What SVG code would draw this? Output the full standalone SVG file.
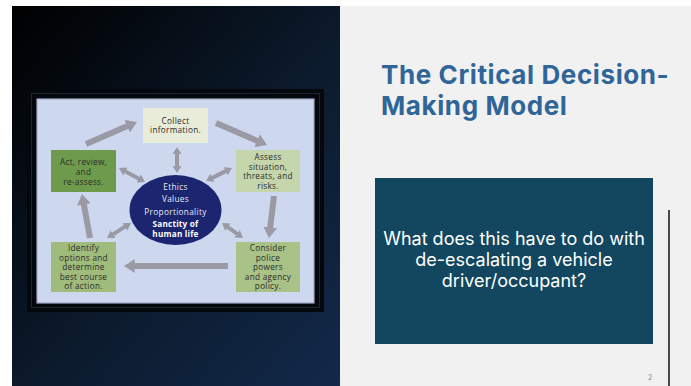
<svg xmlns="http://www.w3.org/2000/svg" width="691" height="386" viewBox="0 0 691 386">
<defs>
<linearGradient id="bg" x1="0" y1="0" x2="1" y2="1">
<stop offset="0" stop-color="#000000"/>
<stop offset="0.55" stop-color="#0c1b2d"/>
<stop offset="1" stop-color="#12294a"/>
</linearGradient>
<marker id="ah" viewBox="0 0 10 10" refX="1" refY="5" markerWidth="1.8" markerHeight="2.3" preserveAspectRatio="none" orient="auto-start-reverse">
<path d="M0,0 L10,5 L0,10 z" fill="#9b99a3"/>
</marker>
<style>
.box{stroke:none}
.t{font-family:"Open Sans","Liberation Sans",sans-serif;font-size:8.2px;letter-spacing:0.3px;fill:#2b2b2b;text-anchor:middle}
.e{font-family:"Open Sans","Liberation Sans",sans-serif;font-size:8.2px;letter-spacing:0.35px;fill:#e8ecf6;text-anchor:middle}
.eb{font-weight:700;fill:#ffffff;letter-spacing:0.2px}
.arr{stroke:#9b99a3;stroke-width:6;fill:none;marker-end:url(#ah)}
.dbl{stroke:#9b99a3;stroke-width:4;fill:none;marker-start:url(#ah);marker-end:url(#ah)}
.title{font-family:Inter,"Open Sans",sans-serif;font-weight:700;font-size:26px;letter-spacing:0.6px;fill:#2f6599}
.q{font-family:Inter,"Open Sans",sans-serif;font-size:18px;fill:#ffffff;text-anchor:middle}
</style>
</defs>
<rect x="0" y="0" width="691" height="386" fill="#ffffff"/>
<rect x="340" y="6" width="351" height="380" fill="#f1f1f1"/>
<rect x="12" y="6" width="328" height="380" fill="url(#bg)"/>

<g id="frame">
<rect x="27" y="89" width="297" height="223" fill="#04070c"/>
<rect x="31.5" y="93.5" width="288" height="214" fill="none" stroke="#1f2633" stroke-width="1"/>
<rect x="37" y="99" width="277" height="204" fill="#cdd8ef" stroke="#a3a8c8" stroke-width="1.2"/>
</g>

<g id="connectors">
<line class="arr" x1="86" y1="144" x2="128.1" y2="125.8"/>
<line class="arr" x1="216" y1="123" x2="258.1" y2="141.2"/>
<line class="arr" x1="274" y1="196" x2="270.1" y2="228.4"/>
<line class="arr" x1="228" y1="266" x2="133.7" y2="266"/>
<line class="arr" x1="90" y1="238" x2="83.7" y2="203.5"/>
<line class="dbl" x1="177" y1="153.5" x2="177" y2="166.5"/>
<line class="dbl" x1="124.7" y1="171.1" x2="139.3" y2="178.9"/>
<line class="dbl" x1="226.2" y1="170.9" x2="211.8" y2="178.1"/>
<line class="dbl" x1="112.5" y1="234.6" x2="125.5" y2="226.4"/>
<line class="dbl" x1="227.3" y1="226.8" x2="237.7" y2="234.2"/>
</g>

<g id="collect">
<rect class="box" x="143" y="108" width="65" height="35" fill="#e9ecd8"/>
<text class="t" x="175.5" y="123.5">Collect</text>
<text class="t" x="175.5" y="133">information.</text>
</g>
<g id="assess">
<rect class="box" x="236" y="150" width="64" height="42" fill="#c5d6ad"/>
<text class="t" x="268" y="160">Assess</text>
<text class="t" x="268" y="169.5">situation,</text>
<text class="t" x="268" y="179">threats, and</text>
<text class="t" x="268" y="188.5">risks.</text>
</g>
<g id="act">
<rect class="box" x="51" y="150" width="65" height="42" fill="#6e9a4c"/>
<text class="t" x="83.5" y="165">Act, review,</text>
<text class="t" x="83.5" y="174.5">and</text>
<text class="t" x="83.5" y="184.5">re-assess.</text>
</g>
<g id="identify">
<rect class="box" x="51" y="242" width="65" height="50" fill="#9fbc7c"/>
<text class="t" x="83.5" y="251">Identify</text>
<text class="t" x="83.5" y="260.5">options and</text>
<text class="t" x="83.5" y="270">determine</text>
<text class="t" x="83.5" y="279.5">best course</text>
<text class="t" x="83.5" y="289">of action.</text>
</g>
<g id="consider">
<rect class="box" x="236" y="242" width="64" height="50" fill="#a8c287"/>
<text class="t" x="268" y="251">Consider</text>
<text class="t" x="268" y="260.5">police</text>
<text class="t" x="268" y="270">powers</text>
<text class="t" x="268" y="279.5">and agency</text>
<text class="t" x="268" y="289">policy.</text>
</g>
<g id="center">
<ellipse cx="175.5" cy="210" rx="46" ry="35" fill="#1b2570"/>
<text class="e" x="175.5" y="190">Ethics</text>
<text class="e" x="175.5" y="202">Values</text>
<text class="e" x="175.5" y="214.5">Proportionality</text>
<text class="e eb" x="175.5" y="227">Sanctity of</text>
<text class="e eb" x="175.5" y="236.5">human life</text>
</g>

<g id="title">
<text class="title" x="381" y="84">The Critical Decision-</text>
<text class="title" x="381" y="114.5">Making Model</text>
</g>
<g id="question">
<rect x="375" y="178" width="278" height="166" fill="#12475f"/>
<text class="q" x="514" y="245">What does this have to do with</text>
<text class="q" x="514" y="266">de-escalating a vehicle</text>
<text class="q" x="514" y="287">driver/occupant?</text>
</g>
<line x1="669" y1="210" x2="669" y2="386" stroke="#0a0f1a" stroke-width="1.5"/>
<text x="648" y="380" font-family="Inter,'Open Sans',sans-serif" font-size="7" fill="#8a8a8a">2</text>
</svg>
